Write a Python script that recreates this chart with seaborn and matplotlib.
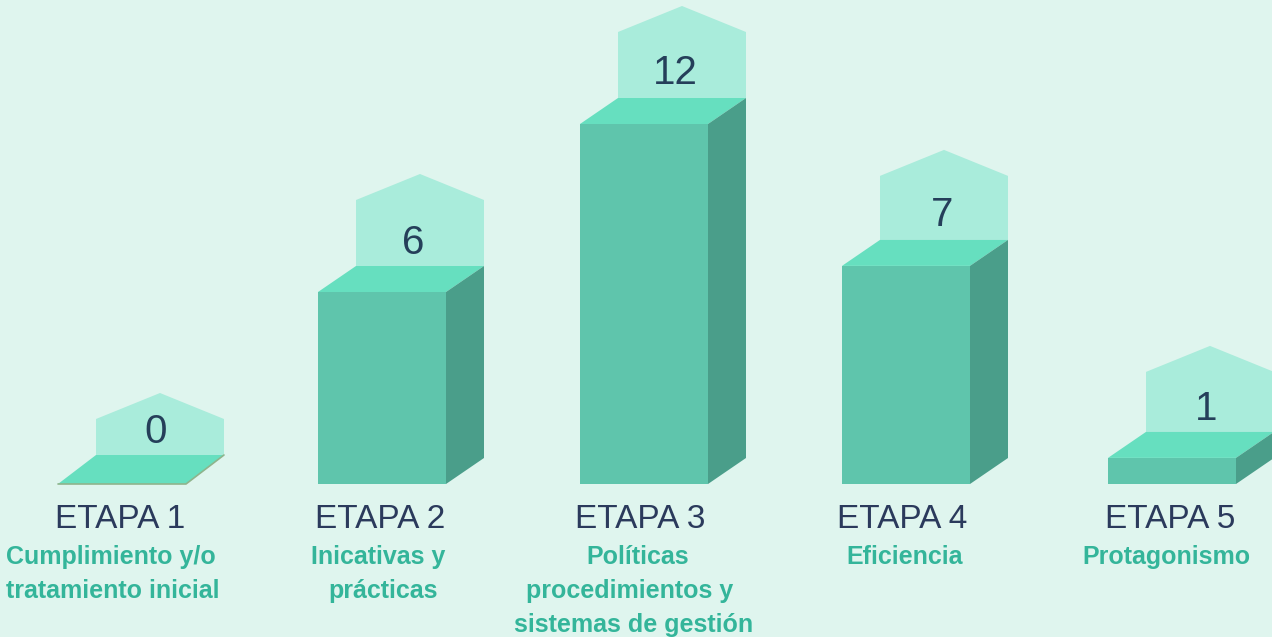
import matplotlib
matplotlib.use("Agg")
import matplotlib.pyplot as plt
import pandas as pd
import seaborn as sns

sns.set_theme(style="white")
plt.rcParams['font.family'] = ['Liberation Sans', 'DejaVu Sans']

# chart data
stages = ["ETAPA 1", "ETAPA 2", "ETAPA 3", "ETAPA 4", "ETAPA 5"]
counts = [0, 6, 12, 7, 1]
# bar heights as drawn in the picture (the artwork is not strictly to scale)
heights = [0, 6.4, 12, 7.27, 0.87]
descriptions = [
    ["Cumplimiento y/o", "tratamiento inicial"],
    ["Inicativas y", "prácticas"],
    ["Políticas", "procedimientos y", "sistemas de gestión"],
    ["Eficiencia"],
    ["Protagonismo"],
]

# layout, in figure pixels
centers = [122, 382, 644, 906, 1172]
stage_x = [120, 380, 640, 902, 1170]
desc_x = [[111, 113], [378, 383], [638, 630, 634], [905], [1166]]
count_x = [156, 413, 675, 942, 1206]
count_y = [432, 243, 73, 215, 409]
depth_px = [29, 26, 26, 26, 26]
panel_px = [36, 66, 66, 64, 60]
bar_w = 128
depth_x = 38
roof_px = 26
px_per_unit = 30
base_y = 484

BG = "#dff5ee"
FRONT = "#5fc5ac"
TOP = "#66dfbf"
SIDE = "#4a9e8a"
PANEL = "#a9ecdb"
NAVY = "#2b3a5c"
TEAL = "#2bb296"

df = pd.DataFrame({"x": centers, "height": heights})


def to_y(py):
    """Figure pixel row to data units."""
    return (base_y - py) / px_per_unit


fig = plt.figure(figsize=(12.72, 6.37), dpi=100, facecolor=BG)
ax = fig.add_axes([0, 0, 1, 1])

sns.barplot(data=df, x="x", y="height", orient="x", native_scale=True,
            width=bar_w / 260, color=FRONT, saturation=1, linewidth=0,
            zorder=3, ax=ax)

ax.set_xlim(0, 1272)
ax.set_ylim(-(637 - base_y) / px_per_unit, base_y / px_per_unit)
ax.set_axis_off()

for i, (c, h) in enumerate(zip(centers, heights)):
    left = c - bar_w / 2
    right = c + bar_w / 2
    depth_y = depth_px[i] / px_per_unit
    back_top = h + depth_y
    shoulder = back_top + panel_px[i] / px_per_unit
    peak = shoulder + roof_px / px_per_unit

    # back panel with pointed roof
    ax.fill([left + depth_x, right + depth_x, right + depth_x, c + depth_x, left + depth_x],
            [back_top, back_top, shoulder, peak, shoulder],
            color=PANEL, lw=0, zorder=1)
    # top face
    ax.fill([left, right, right + depth_x, left + depth_x],
            [h, h, back_top, back_top], color=TOP, lw=0, zorder=2)
    # side face
    ax.fill([right, right + depth_x, right + depth_x, right],
            [0, depth_y, back_top, h], color=SIDE, lw=0, zorder=2)

    # zero bar only shows as a thin edge
    if h == 0:
        ax.plot([left, right, right + depth_x], [0, 0, depth_y],
                color="#8fb48c", lw=1.2, zorder=4)

    ax.text(count_x[i], to_y(count_y[i]), str(counts[i]), ha="center", va="center",
            fontsize=29, color="#253f5a", zorder=5)
    ax.text(stage_x[i], to_y(520), stages[i], ha="center", va="center",
            fontsize=24, color=NAVY)
    for j, line in enumerate(descriptions[i]):
        ax.text(desc_x[i][j], to_y(557 + j * 34), line, ha="center", va="center",
                fontsize=18, color=TEAL, fontweight="bold", alpha=0.95)

fig.savefig("out.png", dpi=100, facecolor=BG)
plt.close(fig)
